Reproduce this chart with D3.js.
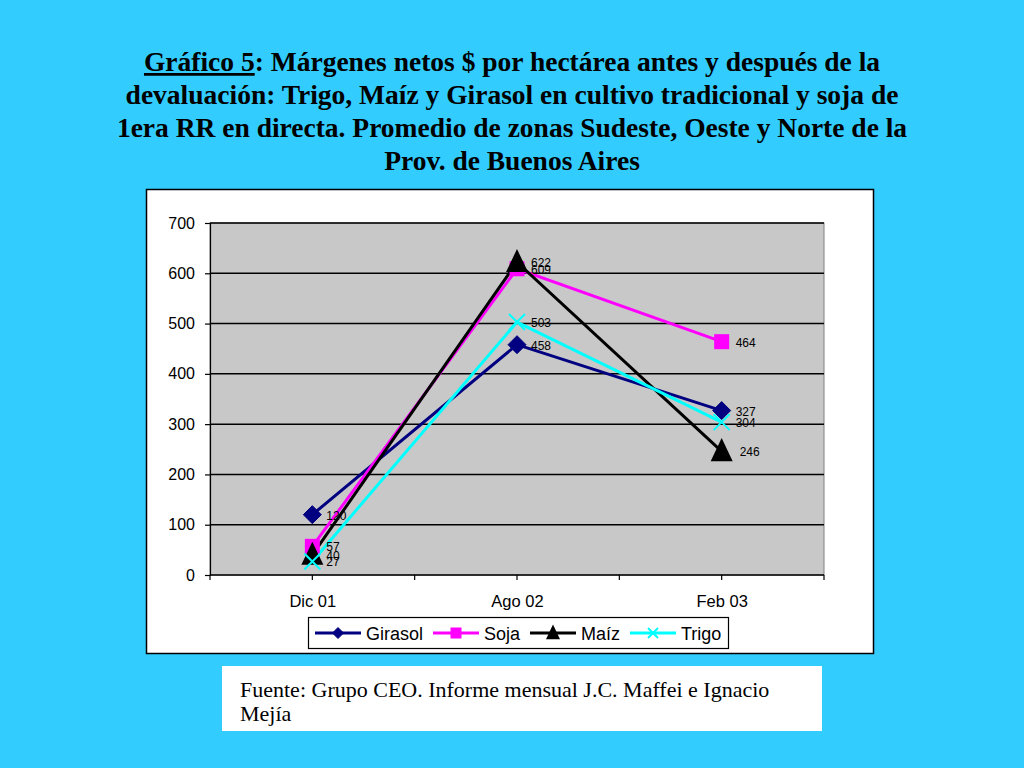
<!DOCTYPE html>
<html><head><meta charset="utf-8">
<script src="https://cdn.jsdelivr.net/npm/d3@7/dist/d3.min.js"></script>
<style>body{margin:0;background:#33ccff;} svg{display:block;}</style>
</head><body>
<svg id="c" width="1024" height="768"></svg>
<script>
const categories = ["Dic 01", "Ago 02", "Feb 03"];
const girasol = [120, 458, 327];
const soja = [57, 609, 464];
const maiz = [40, 622, 246];
const trigo = [27, 503, 304];
const yTicks = [0, 100, 200, 300, 400, 500, 600, 700];
const titleLines = [
  "Márgenes netos $ por hectárea antes y después de la",
  "devaluación: Trigo, Maíz y Girasol en cultivo tradicional y soja de",
  "1era RR en directa. Promedio de zonas Sudeste, Oeste y Norte de la",
  "Prov. de Buenos Aires"
];
const sourceLines = ["Fuente: Grupo CEO. Informe mensual J.C. Maffei e Ignacio", "Mejía"];

const series = [
  {name: "Girasol", values: girasol, color: "#000080", marker: "diamond"},
  {name: "Soja", values: soja, color: "#ff00ff", marker: "square"},
  {name: "Maíz", values: maiz, color: "#000000", marker: "triangle"},
  {name: "Trigo", values: trigo, color: "#00ffff", marker: "x"}
];

const svg = d3.select("#c");
svg.append("rect").attr("width",1024).attr("height",768).attr("fill","#33ccff");

// Title
const tt = svg.append("text").attr("text-anchor","middle")
  .attr("font-family","'Liberation Serif','Times New Roman',serif")
  .attr("font-weight","bold").attr("font-size",27.5).attr("fill","#000");
titleLines.forEach((l,i)=>{
  const ts = tt.append("tspan").attr("x",512).attr("y",71+i*33);
  if(i===0){
    ts.append("tspan").attr("text-decoration","underline").text("Gráfico 5");
    ts.append("tspan").text(": " + l);
  } else ts.text(l);
});

// chart box
svg.append("rect").attr("x",146.5).attr("y",189.5).attr("width",727).attr("height",464)
  .attr("fill","#fff").attr("stroke","#000").attr("stroke-width",1.5);

const pl = 210, pr = 824, pt = 223, pb = 575;
const x = d3.scalePoint().domain(categories).range([pl,pr]).padding(0.5);
const y = d3.scaleLinear().domain([0,700]).range([pb,pt]);

svg.append("rect").attr("x",pl).attr("y",pt).attr("width",pr-pl).attr("height",pb-pt)
  .attr("fill","#c8c8c8").attr("stroke","#808080").attr("stroke-width",1);

// gridlines
svg.append("g").selectAll("line").data(yTicks.filter(d=>d>0)).join("line")
  .attr("x1",pl).attr("x2",pr).attr("y1",d=>y(d)).attr("y2",d=>y(d))
  .attr("stroke","#000").attr("stroke-width",1.5);

// y axis
const yAxis = svg.append("g").attr("transform",`translate(${pl},0)`)
  .call(d3.axisLeft(y).tickValues(yTicks).tickSize(5).tickPadding(10));
yAxis.select(".domain").attr("stroke","#000").attr("stroke-width",1.2);
yAxis.selectAll("text").attr("font-family","'Liberation Sans',Arial,sans-serif").attr("font-size",16).attr("fill","#000");
yAxis.selectAll(".tick line").attr("stroke","#000").attr("stroke-width",1.2);

// x axis
const xAxis = svg.append("g").attr("transform",`translate(0,${pb})`)
  .call(d3.axisBottom(x).tickSize(0).tickPadding(20));
xAxis.select(".domain").remove();
xAxis.selectAll("text").attr("font-family","'Liberation Sans',Arial,sans-serif").attr("font-size",16.5).attr("fill","#000");
svg.append("line").attr("x1",pl).attr("x2",pr).attr("y1",pb).attr("y2",pb).attr("stroke","#000").attr("stroke-width",1.5);
const step = x.step();
const tickXs = [];
for(let i=0;i<=categories.length*2;i++) tickXs.push(pl + i*step/2);
svg.append("g").selectAll("line").data(tickXs).join("line")
  .attr("x1",d=>d).attr("x2",d=>d).attr("y1",pb).attr("y2",pb+5).attr("stroke","#000").attr("stroke-width",1.2);

function drawMarker(g, type, color, size){
  if(type==="diamond"){
    const s=size;
    g.append("path").attr("d",`M0,${-s}L${s},0L0,${s}L${-s},0Z`).attr("fill",color).attr("stroke",color);
  } else if(type==="square"){
    g.append("rect").attr("x",-size).attr("y",-size).attr("width",2*size).attr("height",2*size).attr("fill",color);
  } else if(type==="triangle"){
    g.append("path").attr("d",`M0,${-size*1.2}L${size},${size*0.9}L${-size},${size*0.9}Z`).attr("fill",color);
  } else {
    g.append("path").attr("d",`M${-size},${-size}L${size},${size}M${size},${-size}L${-size},${size}`)
      .attr("stroke",color).attr("stroke-width",2).attr("fill","none");
  }
}

const line = d3.line().x((d,i)=>x(categories[i])).y(d=>y(d));
const msize = {diamond:9, square:7.5, triangle:11, x:8};
series.forEach(s=>{
  svg.append("path").attr("d",line(s.values)).attr("fill","none")
    .attr("stroke",s.color).attr("stroke-width",3);
});
series.forEach(s=>{
  s.values.forEach((v,i)=>{
    const g = svg.append("g").attr("transform",`translate(${x(categories[i])},${y(v)})`);
    drawMarker(g, s.marker, s.color, msize[s.marker]);
  });
});
// data labels
series.forEach(s=>{
  s.values.forEach((v,i)=>{
    svg.append("text").attr("x",x(categories[i])+ (s.marker==="triangle"&&i===2?18:14)).attr("y",y(v)+5)
      .attr("font-family","'Liberation Sans',Arial,sans-serif").attr("font-size",12).attr("fill","#000").text(v);
  });
});

// legend
svg.append("rect").attr("x",308.5).attr("y",617.5).attr("width",420).attr("height",31)
  .attr("fill","#fff").attr("stroke","#000").attr("stroke-width",1.2);
const legX = [315, 433, 530, 630];
series.forEach((s,i)=>{
  const lx = legX[i], ly = 633;
  svg.append("line").attr("x1",lx).attr("x2",lx+46).attr("y1",ly).attr("y2",ly).attr("stroke",s.color).attr("stroke-width",3);
  const g = svg.append("g").attr("transform",`translate(${lx+23},${ly})`);
  drawMarker(g, s.marker, s.color, s.marker==="triangle"?7:(s.marker==="x"?5:5.5));
  svg.append("text").attr("x",lx+51).attr("y",ly+6.5).attr("font-family","'Liberation Sans',Arial,sans-serif")
    .attr("font-size",18).attr("fill","#000").text(s.name);
});

// source box
svg.append("rect").attr("x",222).attr("y",666).attr("width",600).attr("height",65).attr("fill","#fff");
sourceLines.forEach((l,i)=>{
  svg.append("text").attr("x",240).attr("y",697+i*24).attr("font-family","'Liberation Serif','Times New Roman',serif")
    .attr("font-size",22).attr("fill","#000").text(l);
});
</script>
</body></html>
